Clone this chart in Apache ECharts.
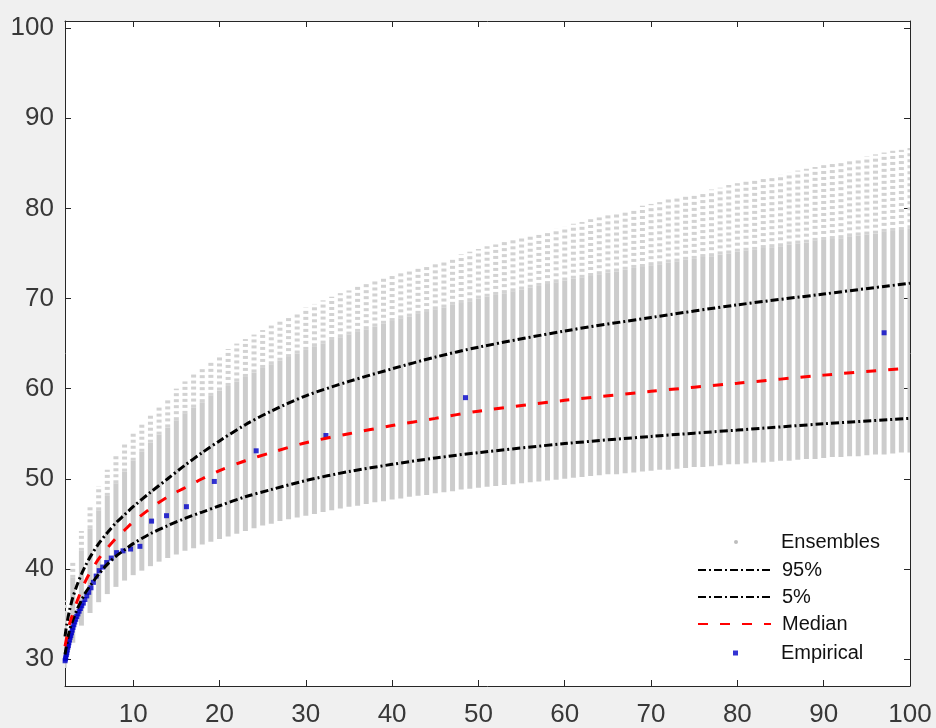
<!DOCTYPE html>
<html>
<head>
<meta charset="utf-8">
<script src="https://cdn.jsdelivr.net/npm/echarts@6/dist/echarts.min.js"></script>
<style>
  html, body { margin: 0; padding: 0; background: #f0f0f0; }
  #chart { width: 936px; height: 728px; }
</style>
</head>
<body>
<div id="chart"></div>
<script>
// ensemble columns, one per return period
var ensX = [2, 3, 4, 5, 6, 7, 8, 9, 10, 11, 12, 13, 14, 15, 16, 17, 18, 19, 20,
  21, 22, 23, 24, 25, 26, 27, 28, 29, 30, 31, 32, 33, 34, 35, 36, 37, 38, 39, 40,
  41, 42, 43, 44, 45, 46, 47, 48, 49, 50, 51, 52, 53, 54, 55, 56, 57, 58, 59, 60,
  61, 62, 63, 64, 65, 66, 67, 68, 69, 70, 71, 72, 73, 74, 75, 76, 77, 78, 79, 80,
  81, 82, 83, 84, 85, 86, 87, 88, 89, 90, 91, 92, 93, 94, 95, 96, 97, 98, 99, 100]
var ensLo = [29.0, 31.8, 33.7, 35.1, 36.3, 37.2, 38.0, 38.7, 39.3, 39.8, 40.3, 40.8, 41.2, 41.6, 42.0, 42.3, 42.7, 43.0, 43.3,
  43.6, 43.9, 44.2, 44.5, 44.8, 45.0, 45.3, 45.5, 45.7, 45.9, 46.1, 46.3, 46.5, 46.7, 46.9, 47.0, 47.2, 47.4, 47.5, 47.7,
  47.8, 48.0, 48.1, 48.2, 48.4, 48.5, 48.6, 48.8, 48.9, 49.0, 49.1, 49.2, 49.3, 49.4, 49.5, 49.6, 49.7, 49.8, 49.9, 50.0,
  50.1, 50.2, 50.3, 50.4, 50.5, 50.5, 50.6, 50.7, 50.8, 50.9, 51.0, 51.0, 51.1, 51.2, 51.3, 51.3, 51.4, 51.5, 51.6, 51.6,
  51.7, 51.8, 51.8, 51.9, 52.0, 52.0, 52.1, 52.2, 52.2, 52.3, 52.4, 52.4, 52.5, 52.5, 52.6, 52.7, 52.7, 52.8, 52.9, 52.9]
var ensHi = [35.0, 39.0, 42.0, 44.5, 46.5, 48.1, 49.5, 50.8, 52.0, 53.0, 54.0, 54.9, 55.7, 56.5, 57.2, 57.9, 58.5, 59.2, 59.8,
  60.3, 60.8, 61.3, 61.8, 62.3, 62.7, 63.1, 63.5, 63.9, 64.3, 64.7, 65.0, 65.4, 65.7, 66.0, 66.3, 66.6, 66.9, 67.2, 67.5,
  67.8, 68.0, 68.3, 68.5, 68.8, 69.0, 69.3, 69.5, 69.7, 70.0, 70.2, 70.4, 70.6, 70.8, 71.0, 71.2, 71.4, 71.6, 71.8, 72.0,
  72.2, 72.3, 72.5, 72.7, 72.9, 73.0, 73.2, 73.4, 73.5, 73.7, 73.8, 74.0, 74.1, 74.3, 74.4, 74.6, 74.7, 74.9, 75.0, 75.2,
  75.3, 75.4, 75.6, 75.7, 75.8, 76.0, 76.1, 76.2, 76.4, 76.5, 76.6, 76.7, 76.9, 77.0, 77.1, 77.2, 77.4, 77.5, 77.6, 77.8]
var ensMax = [36.5, 41.0, 44.2, 47.0, 49.2, 51.0, 52.5, 53.8, 55.0, 56.1, 57.1, 58.1, 59.0, 60.0, 60.8, 61.6, 62.3, 63.1, 63.8,
  64.4, 65.0, 65.5, 66.0, 66.5, 67.0, 67.5, 68.0, 68.5, 69.0, 69.4, 69.8, 70.2, 70.6, 70.9, 71.3, 71.6, 71.9, 72.2, 72.5,
  72.8, 73.1, 73.4, 73.7, 74.0, 74.3, 74.6, 74.9, 75.2, 75.5, 75.8, 76.0, 76.3, 76.5, 76.8, 77.0, 77.3, 77.5, 77.8, 78.0,
  78.3, 78.5, 78.8, 79.0, 79.3, 79.5, 79.8, 80.0, 80.3, 80.5, 80.7, 81.0, 81.2, 81.4, 81.7, 81.9, 82.1, 82.3, 82.6, 82.8,
  83.0, 83.2, 83.4, 83.6, 83.8, 84.0, 84.2, 84.4, 84.6, 84.8, 85.0, 85.2, 85.4, 85.6, 85.8, 86.0, 86.2, 86.4, 86.5, 86.7]

// quantile curves
var qX = [2.1, 2.3, 2.6, 3, 3.5, 4, 4.5, 5, 6, 7, 8, 9, 10, 12, 14, 16, 18, 20, 23, 26, 30, 35, 40, 45, 50, 60, 70, 80, 90, 100]
var q95 = [32.5, 33.8, 35.3, 36.8, 38.2, 39.4, 40.4, 41.3, 42.8, 44.0, 45.1, 46.0, 46.9, 48.5, 50.0, 51.5, 52.9, 54.2, 56.0, 57.5, 59.2, 60.8, 62.2, 63.5, 64.6, 66.4, 67.9, 69.3, 70.5, 71.7]
var q05 = [30.5, 31.6, 33.1, 34.3, 35.5, 36.5, 37.4, 38.1, 39.4, 40.5, 41.4, 42.1, 42.8, 43.9, 44.8, 45.6, 46.3, 47.0, 48.0, 48.8, 49.8, 50.8, 51.6, 52.3, 52.9, 53.9, 54.7, 55.4, 56.1, 56.7]
var qMed = [31.4, 32.4, 33.8, 35.0, 36.4, 37.6, 38.7, 39.6, 41.1, 42.3, 43.4, 44.3, 45.2, 46.7, 48.0, 49.0, 50.0, 50.9, 52.0, 52.9, 54.0, 55.0, 55.9, 56.7, 57.5, 58.7, 59.7, 60.6, 61.5, 62.3]

// empirical plotting positions
var empX = [97, 48.5, 32.33, 24.25, 19.4, 16.17, 13.86, 12.13, 10.78, 9.7, 8.82, 8.08, 7.46, 6.93, 6.47, 6.06,
  5.71, 5.39, 5.11, 4.85, 4.62, 4.41, 4.22, 4.04, 3.88, 3.73, 3.59, 3.46, 3.34, 3.23, 3.13, 3.03,
  2.94, 2.85, 2.77, 2.69, 2.62, 2.55, 2.49, 2.43, 2.37, 2.31, 2.26, 2.2, 2.16, 2.11]
var empY = [66.2, 59.0, 54.8, 53.1, 49.7, 46.9, 45.9, 45.3, 42.5, 42.2, 42.0, 41.8, 41.2, 40.7, 40.2, 39.8,
  39.2, 38.5, 37.9, 37.4, 37.0, 36.6, 36.2, 35.9, 35.6, 35.3, 35.0, 34.7, 34.4, 34.1, 33.8, 33.5,
  33.2, 32.9, 32.6, 32.4, 32.1, 31.8, 31.5, 31.3, 31.0, 30.7, 30.5, 30.2, 30.0, 29.8]

var xTicks = [10, 20, 30, 40, 50, 60, 70, 80, 90, 100]
var yTicks = [30, 40, 50, 60, 70, 80, 90, 100]

function pairs (xs, ys) {
  return xs.map(function (x, i) { return [x, ys[i]] })
}

var axisColor = '#262626'
var font = 'Arial, "Liberation Sans", Helvetica, sans-serif'

function xAx (pos, labels) {
  return {
    type: 'value', position: pos, min: 2.1, max: 100,
    axisLine: { show: true, onZero: false, lineStyle: { color: axisColor, width: 1 } },
    axisTick: { show: true, inside: true, length: 6, customValues: xTicks, lineStyle: { color: axisColor } },
    axisLabel: { show: labels, customValues: xTicks, margin: 16, fontSize: 26, color: '#383838', fontFamily: font },
    splitLine: { show: false }
  }
}
function yAx (pos, labels) {
  return {
    type: 'value', position: pos, min: 27.0, max: 100.8,
    axisLine: { show: true, onZero: false, lineStyle: { color: axisColor, width: 1 } },
    axisTick: { show: true, inside: true, length: 6, customValues: yTicks, lineStyle: { color: axisColor } },
    axisLabel: { show: labels, customValues: yTicks, margin: 11, fontSize: 26, color: '#383838', fontFamily: font },
    splitLine: { show: false }
  }
}

var legendText = { fontSize: 20, color: '#111', fontFamily: font, lineHeight: 20 }

var chart = echarts.init(document.getElementById('chart'))
chart.setOption({
  backgroundColor: '#f0f0f0',
  animation: false,
  grid: { left: 65, right: 26, top: 21, bottom: 42, show: true, backgroundColor: '#fff', borderWidth: 0 },
  xAxis: [xAx('bottom', true), xAx('top', false)],
  yAxis: [yAx('left', true), yAx('right', false)],
  legend: [
    {
      left: 734, top: 532, padding: 0, orient: 'vertical', itemWidth: 4, itemHeight: 4,
      data: [{ name: 'Ensembles', icon: 'circle', itemStyle: { color: '#bdbdbd' } }],
      textStyle: Object.assign({ padding: [0, 0, 0, 38] }, legendText)
    },
    {
      left: 697, top: 560, padding: 0, orient: 'vertical', itemWidth: 73, itemHeight: 14, itemGap: 7,
      data: ['95%', '5%', 'Median'],
      itemStyle: { opacity: 0, borderWidth: 0 },
      textStyle: Object.assign({ padding: [0, 0, 0, 6] }, legendText)
    },
    {
      left: 733, top: 643, padding: 0, orient: 'vertical', itemWidth: 5, itemHeight: 5,
      data: [{ name: 'Empirical', icon: 'rect' }],
      textStyle: Object.assign({ padding: [0, 0, 0, 38] }, legendText)
    }
  ],
  series: [
    {
      name: 'Ensembles',
      type: 'custom',
      clip: true,
      itemStyle: { color: '#cccccc' },
      data: ensX.map(function (x, i) { return [x, ensLo[i], ensHi[i], ensMax[i]] }),
      renderItem: function (params, api) {
        var x = api.value(0)
        var lo = api.coord([x, api.value(1)])
        var hi = api.coord([x, api.value(2)])
        var top = api.coord([x, api.value(3)])
        return {
          type: 'group',
          children: [
            {
              type: 'rect',
              shape: { x: lo[0] - 2.5, y: hi[1], width: 5, height: lo[1] - hi[1] },
              style: { fill: '#cccccc' }
            },
            {
              type: 'line',
              shape: { x1: hi[0], y1: hi[1], x2: top[0], y2: top[1] },
              style: { stroke: '#d2d2d2', lineWidth: 5, lineDash: [3, 3] }
            }
          ]
        }
      }
    },
    {
      name: '95%', type: 'line', smooth: 0.3, symbol: 'none',
      data: pairs(qX, q95),
      lineStyle: { color: '#000', width: 3, type: [8, 3, 2, 3] },
      itemStyle: { color: '#000' }
    },
    {
      name: '5%', type: 'line', smooth: 0.3, symbol: 'none',
      data: pairs(qX, q05),
      lineStyle: { color: '#000', width: 3, type: [8, 3, 2, 3] },
      itemStyle: { color: '#000' }
    },
    {
      name: 'Median', type: 'line', smooth: 0.3, symbol: 'none',
      data: pairs(qX, qMed),
      lineStyle: { color: '#ff0000', width: 3, type: [10, 12] },
      itemStyle: { color: '#ff0000' }
    },
    {
      name: 'Empirical', type: 'scatter', symbol: 'rect', symbolSize: 5,
      data: pairs(empX, empY),
      itemStyle: { color: '#0000c8' }
    }
  ]
})
</script>
</body>
</html>
